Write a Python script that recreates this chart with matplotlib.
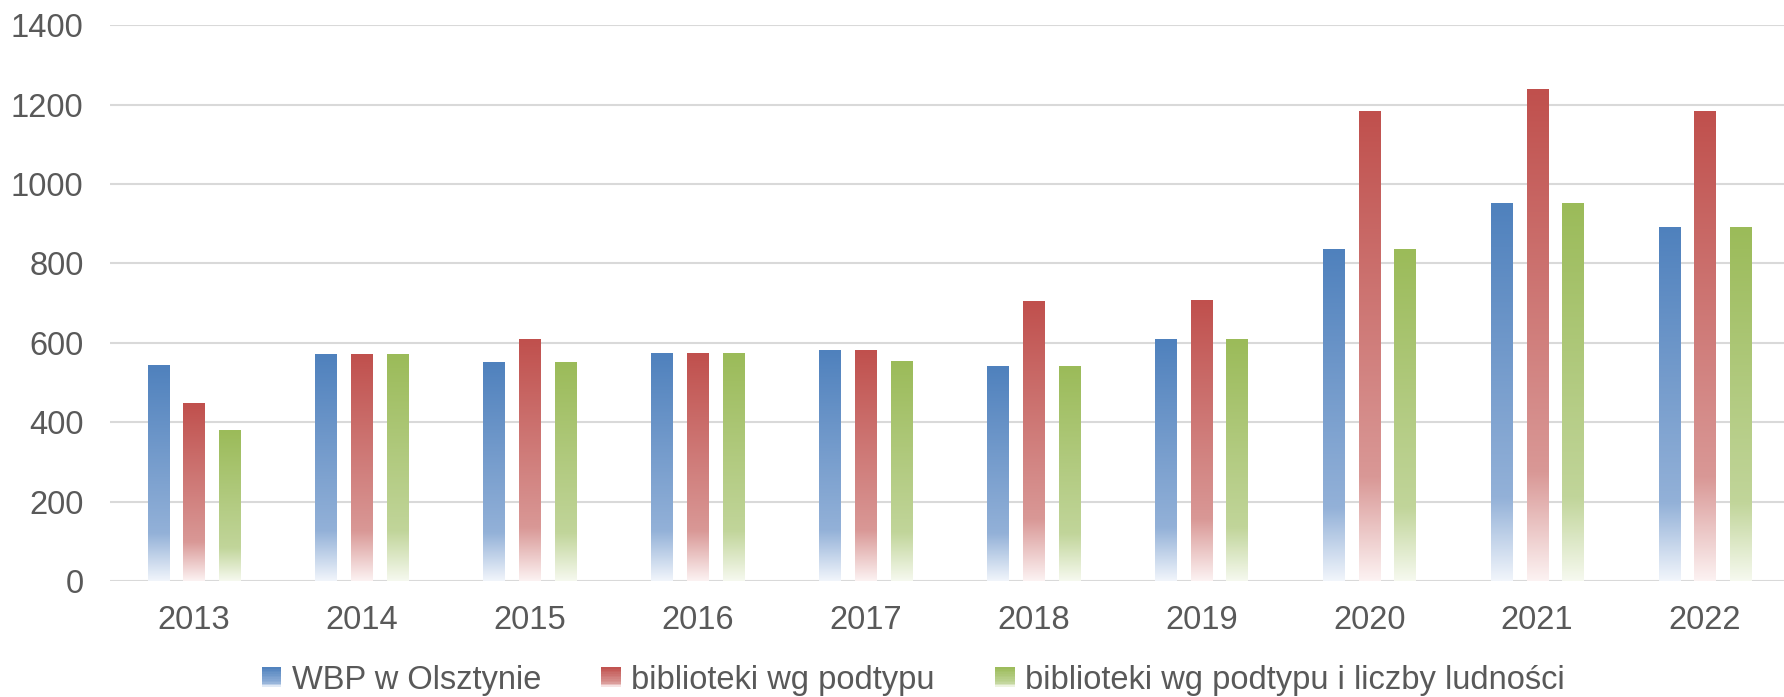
import numpy as np
import matplotlib
matplotlib.use("Agg")
import matplotlib.pyplot as plt
from matplotlib.colors import LinearSegmentedColormap
from matplotlib.legend_handler import HandlerBase
from matplotlib.patches import Rectangle, Patch

years = ["2013", "2014", "2015", "2016", "2017", "2018", "2019", "2020", "2021", "2022"]
wbp = [543, 571, 551, 573, 581, 541, 608, 836, 951, 891]
podtyp = [446, 571, 608, 573, 581, 704, 707, 1183, 1237, 1183]
podtyp_ludnosc = [379, 571, 551, 573, 553, 541, 608, 836, 951, 891]
labels = ["WBP w Olsztynie", "biblioteki wg podtypu", "biblioteki wg podtypu i liczby ludności"]

# gradient stops: bottom -> fade point -> top
grads = [
    ["#F1F5FB", "#93B1D8", "#4F81BD"],
    ["#FCF2F2", "#D99896", "#C0504D"],
    ["#F6F9EF", "#C1D59A", "#9BBB59"],
]
cmaps = [LinearSegmentedColormap.from_list("g%d" % i, [(0, g[0]), (0.22, g[1]), (1, g[2])])
         for i, g in enumerate(grads)]

plt.rcParams['font.family'] = ['Liberation Sans', 'DejaVu Sans']
text_col = "#595959"

fig = plt.figure(figsize=(17.84, 6.97), dpi=100)
ax = fig.add_axes([110 / 1784, 0.1664, 1 - 110 / 1784, 0.964 - 0.1664])

x = np.arange(len(years))
w = 0.127
off = 0.213
grad = np.linspace(0, 1, 256).reshape(-1, 1)
for k, vals in enumerate([wbp, podtyp, podtyp_ludnosc]):
    bars = ax.bar(x + (k - 1) * off, vals, w, color="none", zorder=2)
    for b in bars:
        x0, h, bw = b.get_x(), b.get_height(), b.get_width()
        ax.imshow(grad, extent=[x0, x0 + bw, 0, h], origin="lower", aspect="auto",
                  cmap=cmaps[k], zorder=2, interpolation="bilinear")

ax.set_xlim(-0.5, 9.47)
ax.set_ylim(0, 1400)
ax.set_yticks(range(0, 1401, 200))
ax.set_xticks(x)
ax.set_xticklabels(years)
ax.grid(axis="y", color="#D9D9D9", linewidth=1.5, zorder=0)
ax.set_axisbelow(True)
for s in ax.spines.values():
    s.set_visible(False)
ax.tick_params(length=0, labelsize=23.5, labelcolor=text_col)
ax.tick_params(axis="y", pad=19)
ax.tick_params(axis="x", pad=17)


class GradHandler(HandlerBase):
    def __init__(self, cmap):
        super().__init__()
        self.cmap = cmap

    def create_artists(self, legend, orig_handle, xdescent, ydescent, width, height, fontsize, trans):
        n = 12
        side = height * 0.85
        x0 = -xdescent
        y0 = -ydescent + (height - side) / 2
        arts = []
        for i in range(n):
            c = self.cmap((i + 0.5) / n)
            arts.append(Rectangle((x0, y0 + side * i / n), side, side / n + 0.2,
                                  facecolor=c, edgecolor="none", transform=trans))
        return arts


handles = [Patch(label=l) for l in labels]
fig.legend(handles=handles, loc="center", bbox_to_anchor=(0.512, 0.024), ncol=3,
           frameon=False, fontsize=23.5, labelcolor=text_col,
           handler_map={h: GradHandler(cmaps[i]) for i, h in enumerate(handles)},
           handlelength=0.62, handletextpad=0.3, columnspacing=1.85)

fig.savefig("out.png", dpi=100)
